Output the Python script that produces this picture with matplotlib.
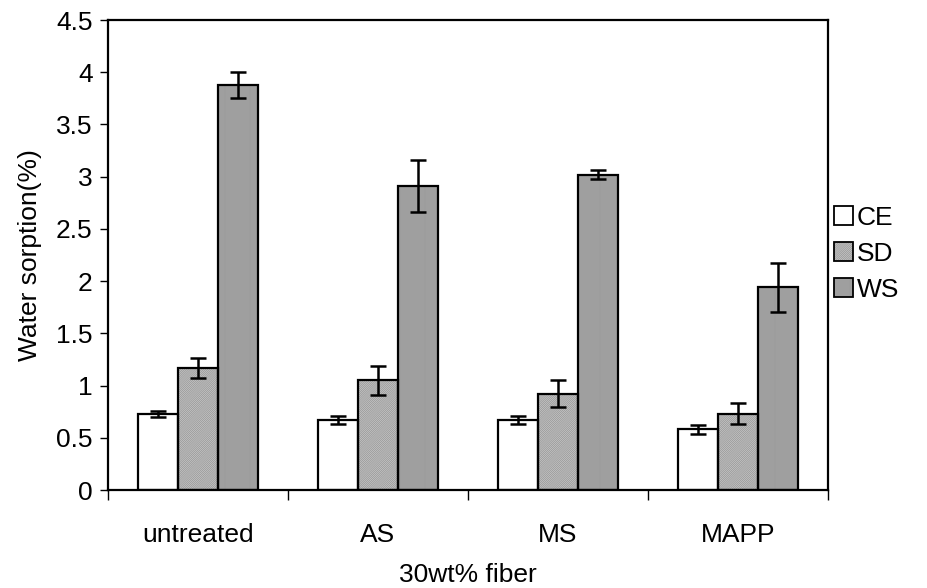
import matplotlib
matplotlib.use("Agg")
import matplotlib.pyplot as plt
import numpy as np
from matplotlib.patches import Patch
from matplotlib.legend_handler import HandlerTuple

plt.rcParams['font.family'] = ['Liberation Sans', 'DejaVu Sans']
plt.rcParams['hatch.linewidth'] = 0.7

categories = ["untreated", "AS", "MS", "MAPP"]
series = ["CE", "SD", "WS"]
ce_vals = [0.73, 0.67, 0.67, 0.58]
ce_err = [0.03, 0.04, 0.04, 0.04]
sd_vals = [1.17, 1.05, 0.92, 0.73]
sd_err = [0.095, 0.14, 0.13, 0.10]
ws_vals = [3.88, 2.91, 3.02, 1.94]
ws_err = [0.125, 0.245, 0.045, 0.235]

FS = 19

fig = plt.figure(figsize=(9.28, 5.88), dpi=100)
ax = fig.add_axes([108/928, 1-490/588, 720/928, 470/588])

x = np.arange(len(categories))
width = 1/4.5
fills = [
    dict(facecolor='white', hatch=None),
    dict(facecolor='#d4d4d4', hatch='/' * 16),
    dict(facecolor='#d4d4d4', hatch='|' * 16),
]
vals = [ce_vals, sd_vals, ws_vals]
errs = [ce_err, sd_err, ws_err]
handles = []
for i, (name, v, e, st) in enumerate(zip(series, vals, errs, fills)):
    pos = x + (i - 1) * width
    # textured fill (hatch takes the edge colour, so keep it grey here)
    ax.bar(pos, v, width, facecolor=st['facecolor'], hatch=st['hatch'],
           edgecolor='#9c9c9c', linewidth=0, zorder=2)
    # black outline on top
    ax.bar(pos, v, width, facecolor='none', edgecolor='black',
           linewidth=1.6, zorder=2.5)
    ax.errorbar(pos, v, yerr=e, fmt='none', ecolor='black', elinewidth=1.8,
                capsize=6, capthick=1.8, zorder=3)
    handles.append((Patch(facecolor=st['facecolor'], hatch=st['hatch'],
                          edgecolor='#9c9c9c', linewidth=0),
                    Patch(facecolor='none', edgecolor='black', linewidth=1.3)))

ax.set_xlim(-0.5, len(categories) - 0.5)
ax.set_ylim(0, 4.5)
ax.set_yticks(np.arange(0, 4.51, 0.5))
ax.set_yticklabels(["0", "0.5", "1", "1.5", "2", "2.5", "3", "3.5", "4", "4.5"])
ax.set_xticks(np.arange(-0.5, len(categories), 1.0))
ax.set_xticklabels([])
ax.set_xticks(x, minor=True)
ax.set_xticklabels(categories, minor=True)
ax.tick_params(axis='x', which='minor', length=0, pad=24, labelsize=FS)
ax.tick_params(axis='x', which='major', length=7, width=1, direction='out')
ax.tick_params(axis='y', length=6, width=1, direction='out', labelsize=FS, pad=5)

for s in ax.spines.values():
    s.set_linewidth(1.6)
    s.set_color('black')

ax.set_ylabel("Water sorption(%)", fontsize=FS, labelpad=10)
ax.set_xlabel("30wt% fiber", fontsize=FS, labelpad=11)

fig.legend(handles=handles, labels=series, loc='upper left',
           handler_map={tuple: HandlerTuple(ndivide=1)},
           bbox_to_anchor=(834/928, 1-206/588), frameon=False,
           fontsize=FS, handlelength=0.72, handleheight=0.72,
           handletextpad=0.15, labelspacing=0.45, borderaxespad=0,
           borderpad=0)

fig.savefig("out.png", dpi=100)
